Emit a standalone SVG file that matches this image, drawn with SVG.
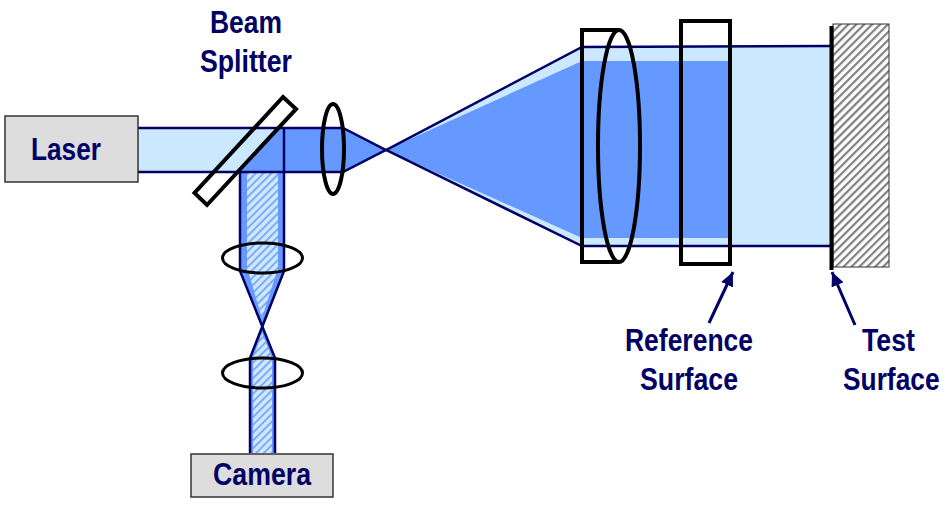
<svg xmlns="http://www.w3.org/2000/svg" width="950" height="510" viewBox="0 0 950 510">
<style>
.label{font-family:"Liberation Sans",Arial,sans-serif;font-weight:bold;font-size:31px;fill:#000066}
.box{fill:#dddddd;stroke:#333333;stroke-width:1.5}
.optic{fill:none;stroke:#000;stroke-width:4}
.thin{stroke-width:3}
.edge{fill:none;stroke:#000066;stroke-width:2.5}
.leader{fill:none;stroke:#000066;stroke-width:3;marker-end:url(#ah)}
</style>
<defs>
<marker id="ah" markerUnits="userSpaceOnUse" markerWidth="16" markerHeight="14" refX="14" refY="6.500" orient="auto"><path d="M0 0L14 6.500L0 13Z" fill="#000066"/></marker>
<pattern id="hb" patternUnits="userSpaceOnUse" width="5.500" height="5.500" patternTransform="rotate(-45)"><rect width="5.500" height="5.500" fill="#cce8ff"/><rect width="5.500" height="1.800" fill="#7aa6ff"/></pattern>
<pattern id="hg" patternUnits="userSpaceOnUse" width="5.600" height="5.600" patternTransform="rotate(-45)"><rect width="5.600" height="5.600" fill="#ffffff"/><rect width="5.600" height="2.200" fill="#808080"/></pattern>
</defs>
<g id="beams">
<path d="M138 128H279L240 172H138Z" fill="#cce8ff"/>
<path d="M279 128H343L386 150L343 172H240Z" fill="#6699ff"/>
<path d="M386 150L582 47H832V246H582Z" fill="#cce8ff"/>
<path d="M386 150L582 61H728V238H582Z" fill="#6699ff"/>
<path d="M240 172H284V271L262 326L275 358V453H250V358L262 326L240 271Z" fill="#6699ff"/>
<path d="M247 172H278V271H277L262 318L248 271H247Z" fill="url(#hb)"/>
<path d="M262 333L272 358V453H253V358Z" fill="url(#hb)"/>
</g>
<g id="connectors">
<path class="edge" d="M138 128H343L386 150L582 47L832 46"/>
<path class="edge" d="M138 172H343L386 150L582 246H832"/>
<path class="edge" d="M284 128V172"/>
<path class="edge" d="M240 172V271L275 358V453"/>
<path class="edge" d="M284 172V271L250 358V453"/>
<path class="leader" d="M709 323L733 272"/>
<path class="leader" d="M855 325L832 272"/>
</g>
<g id="laser"><rect class="box" x="5" y="116" width="133" height="66"/><text class="label" x="31" y="160" textLength="70" lengthAdjust="spacingAndGlyphs">Laser</text></g>
<g id="beam-splitter"><path class="optic" d="M283 97L296 109L207 205L194.500 193Z"/><text class="label" x="210" y="33" textLength="72" lengthAdjust="spacingAndGlyphs">Beam</text><text class="label" x="200" y="72" textLength="92" lengthAdjust="spacingAndGlyphs">Splitter</text></g>
<g id="lens-1"><ellipse class="optic" cx="333" cy="149" rx="11" ry="45"/></g>
<g id="lens-2"><path class="optic" d="M619 30H582V262H619"/><ellipse class="optic" cx="619" cy="146" rx="21" ry="116"/></g>
<g id="reference-surface"><rect class="optic" x="681" y="21" width="49" height="243"/><text class="label" x="625" y="351" textLength="128" lengthAdjust="spacingAndGlyphs">Reference</text><text class="label" x="640" y="390" textLength="98" lengthAdjust="spacingAndGlyphs">Surface</text></g>
<g id="test-surface"><rect x="833" y="24" width="56" height="243" fill="url(#hg)" stroke="#333" stroke-width="1"/><path d="M831.500 26V270" stroke="#000" stroke-width="4"/><text class="label" x="862" y="351" textLength="53" lengthAdjust="spacingAndGlyphs">Test</text><text class="label" transform="translate(843 390) scale(.849 1)">Surface</text></g>
<g id="lens-3"><ellipse class="optic thin" cx="262.500" cy="258" rx="40" ry="15"/></g>
<g id="lens-4"><ellipse class="optic thin" cx="262.500" cy="373" rx="40" ry="15"/></g>
<g id="camera"><rect class="box" x="191" y="454" width="142" height="43"/><text class="label" x="213" y="485" textLength="98" lengthAdjust="spacingAndGlyphs">Camera</text></g>
</svg>
